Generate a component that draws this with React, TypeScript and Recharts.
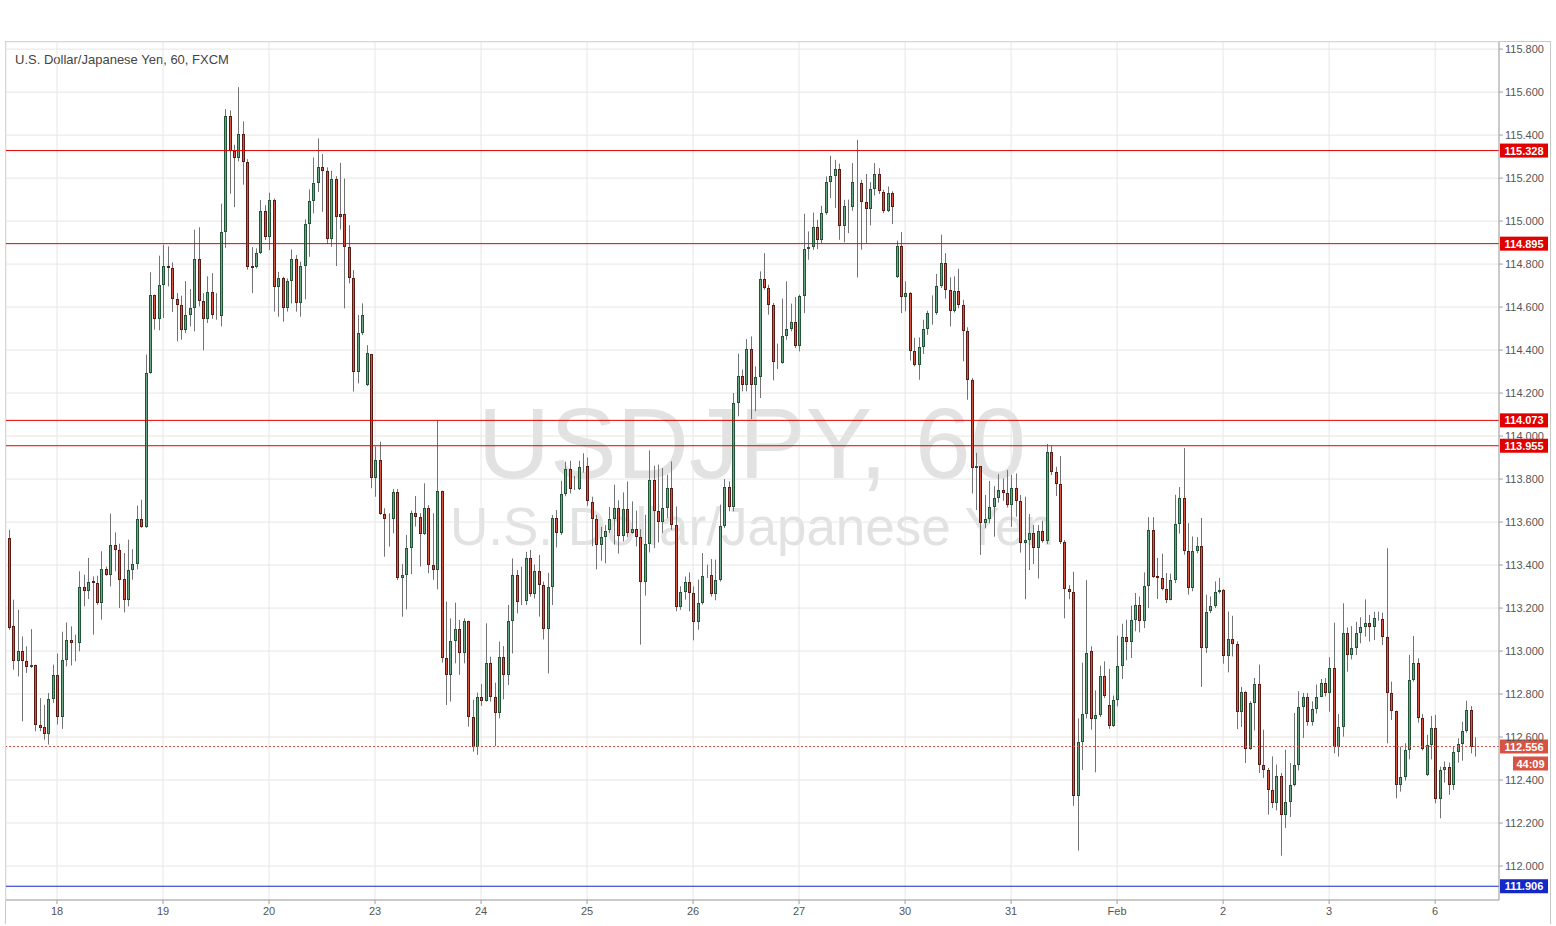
import React from 'react';
import { ComposedChart, Bar, XAxis, YAxis, CartesianGrid, ReferenceLine } from 'recharts';

// [open, high, low, close] per hourly candle
const week1: number[][] = [
  [113.526,113.564,113.099,113.107],[113.115,113.239,112.913,112.952],[112.952,113.192,112.882,112.999],[112.999,113.068,112.673,112.952],
  [112.952,113.022,112.898,112.926],[112.926,113.102,112.921,112.935],[112.935,112.937,112.627,112.656],[112.656,112.781,112.627,112.644],
  [112.647,112.750,112.588,112.614],[112.614,112.805,112.565,112.777],[112.777,112.937,112.758,112.889],[112.889,112.988,112.658,112.694],
  [112.694,113.090,112.638,112.958],[112.958,113.133,112.929,113.051],[113.051,113.115,112.933,113.037],[113.037,113.076,112.952,113.037],
  [113.037,113.371,112.999,113.298],[113.298,113.355,113.208,113.278],[113.278,113.433,113.242,113.322],[113.324,113.347,113.076,113.316],
  [113.316,113.350,113.215,113.223],[113.223,113.464,113.146,113.381],[113.381,113.393,113.350,113.355],[113.355,113.639,113.301,113.495],
  [113.495,113.552,113.371,113.468],[113.468,113.499,113.200,113.332],[113.335,113.456,113.180,113.239],[113.239,113.518,113.208,113.378],
  [113.378,113.474,113.332,113.405],[113.405,113.676,113.380,113.614],[113.614,113.704,113.573,113.577],[113.577,114.379,113.573,114.293],
  [114.293,114.762,114.290,114.658],[114.658,114.658,114.495,114.545],[114.545,114.839,114.492,114.704],[114.704,114.890,114.549,114.792],
  [114.792,114.882,114.696,114.780],[114.780,114.808,114.577,114.637],[114.637,114.665,114.441,114.610],[114.610,114.653,114.448,114.492],
  [114.492,114.721,114.479,114.563],[114.563,114.684,114.510,114.596],[114.596,114.960,114.487,114.823],[114.823,114.971,114.603,114.628],
  [114.628,114.665,114.399,114.545],[114.545,114.743,114.526,114.672],[114.672,114.758,114.545,114.563],[114.563,114.665,114.541,114.557],
  [114.557,115.081,114.510,114.949],[114.949,115.521,114.875,115.490],[115.490,115.515,115.127,115.327],[115.327,115.355,115.065,115.293],
  [115.293,115.623,115.278,115.406],[115.406,115.464,115.169,115.273],[115.273,115.288,114.774,114.786],[114.792,114.879,114.665,114.782],
  [114.788,114.873,114.780,114.850],[114.850,115.098,114.847,115.047],[115.047,115.074,114.912,114.927],[114.927,115.132,114.865,115.098],
  [115.098,115.105,114.579,114.695],[114.695,114.764,114.555,114.737],[114.737,114.741,114.532,114.594],[114.594,114.733,114.579,114.721],
  [114.721,114.868,114.617,114.822],[114.822,114.842,114.579,114.620],[114.620,114.811,114.555,114.791],[114.791,115.008,114.636,114.986],
  [114.986,115.147,114.834,115.093],[115.093,115.296,115.036,115.178],[115.178,115.384,115.136,115.250],[115.250,115.312,115.043,115.234],
  [115.234,115.250,114.893,114.915],[114.915,115.234,114.881,115.198],[115.198,115.209,114.791,115.020],[115.031,115.271,114.961,115.020],
  [115.031,115.198,114.594,114.878],[114.878,114.981,114.710,114.733],[114.733,114.772,114.207,114.300],[114.300,114.563,114.245,114.478],
  [114.478,114.617,114.470,114.563],
];

const week2: number[][] = [
  [114.237,114.423,114.233,114.385],[114.381,114.381,113.757,113.803],[113.803,113.951,113.718,113.889],[113.889,113.974,113.633,113.637],
  [113.637,113.664,113.439,113.613],[113.613,113.641,113.486,113.613],[113.613,113.754,113.548,113.738],[113.738,113.754,113.330,113.338],
  [113.338,113.405,113.160,113.354],[113.354,113.540,113.194,113.478],[113.478,113.653,113.358,113.641],[113.641,113.721,113.579,113.622],
  [113.622,113.641,113.393,113.543],[113.543,113.780,113.540,113.664],[113.664,113.679,113.362,113.400],[113.400,113.641,113.331,113.377],
  [113.377,114.075,113.287,113.746],[113.746,113.746,112.946,112.966],[112.966,113.230,112.749,112.889],[112.889,113.152,112.765,113.048],
  [113.048,113.225,112.943,113.101],[113.101,113.145,112.889,112.993],[112.993,113.152,112.943,113.141],[113.141,113.141,112.648,112.692],
  [112.692,112.773,112.532,112.552],[112.552,112.807,112.517,112.785],[112.785,112.847,112.745,112.769],[112.769,113.129,112.765,112.946],
  [112.943,112.974,112.765,112.788],[112.788,112.853,112.558,112.713],[112.713,113.044,112.687,112.974],[112.974,113.023,112.775,112.889],
  [112.889,113.214,112.842,113.141],[113.141,113.431,112.989,113.354],[113.354,113.377,113.175,113.227],[113.227,113.392,113.214,113.234],
  [113.234,113.462,113.214,113.431],[113.431,113.470,113.253,113.265],[113.265,113.403,113.245,113.372],[113.372,113.447,113.160,113.307],
  [113.307,113.323,113.054,113.101],[113.101,113.364,112.896,113.299],[113.299,113.633,113.214,113.617],[113.617,113.656,113.482,113.547],
  [113.547,113.792,113.540,113.729],[113.729,113.881,113.720,113.845],[113.845,113.885,113.733,113.752],[113.754,113.814,113.749,113.752],
  [113.754,113.885,113.749,113.854],[113.854,113.920,113.830,113.860],[113.860,113.900,113.675,113.698],[113.695,113.718,113.488,113.612],
  [113.612,113.633,113.380,113.493],[113.493,113.578,113.420,113.532],[113.532,113.586,113.408,113.558],[113.561,113.670,113.549,113.614],
  [113.614,113.774,113.495,113.665],[113.665,113.701,113.453,113.537],[113.537,113.738,113.510,113.662],[113.662,113.789,113.530,113.549],
  [113.549,113.696,113.546,113.569],[113.569,113.653,113.487,113.530],[113.530,113.567,113.030,113.320],[113.320,113.634,113.258,113.499],
  [113.499,113.933,113.459,113.797],[113.797,113.862,113.479,113.650],[113.650,113.867,113.505,113.598],[113.598,113.851,113.549,113.665],
  [113.665,113.820,113.619,113.758],[113.758,113.882,113.564,113.588],[113.588,113.673,113.185,113.203],[113.203,113.301,113.192,113.273],
  [113.273,113.347,113.239,113.323],[113.323,113.366,113.185,113.270],[113.270,113.301,113.050,113.134],[113.134,113.332,113.099,113.223],
  [113.223,113.456,113.216,113.347],[113.347,113.402,113.340,113.355],[113.355,113.428,113.254,113.265],[113.265,113.425,113.236,113.329],
  [113.329,113.681,113.323,113.580],[113.580,113.800,113.572,113.763],[113.763,113.789,113.650,113.670],[113.670,114.200,113.650,114.154],
  [114.154,114.383,114.092,114.281],[114.281,114.309,114.208,114.239],[114.239,114.451,114.208,114.405],[114.405,114.464,114.079,114.239],
  [114.239,114.324,114.115,114.275],[114.275,114.766,114.177,114.730],[114.730,114.851,114.681,114.687],[114.687,114.704,114.565,114.609],
  [114.609,114.619,114.259,114.343],[114.346,114.430,114.312,114.340],[114.340,114.639,114.337,114.464],[114.464,114.720,114.448,114.500],
  [114.500,114.616,114.487,114.529],[114.529,114.647,114.410,114.417],[114.417,114.658,114.394,114.650],[114.650,115.034,114.572,114.870],
  [114.870,114.952,114.820,114.879],[114.879,115.040,114.867,114.972],[114.972,115.006,114.870,114.910],[114.910,115.071,114.895,115.037],
  [115.037,115.208,115.029,115.180],[115.180,115.304,115.107,115.211],[115.211,115.285,115.061,115.242],[115.242,115.267,114.913,114.975],
  [114.975,115.099,114.901,115.071],[115.071,115.100,114.944,115.068],[115.064,115.270,115.048,115.184],[115.184,115.378,114.738,115.175],
  [115.175,115.192,114.867,115.088],[115.088,115.219,114.898,115.057],[115.057,115.181,114.980,115.150],[115.150,115.270,115.119,115.219],
  [115.219,115.246,115.126,115.138],[115.135,115.146,115.037,115.045],[115.045,115.161,115.042,115.130],[115.130,115.138,114.986,115.064],
];

const week3: number[][] = [
  [114.738,114.909,114.735,114.882],[114.882,114.949,114.572,114.645],[114.645,114.720,114.580,114.665],[114.665,114.670,114.351,114.394],
  [114.394,114.456,114.324,114.332],[114.332,114.459,114.262,114.413],[114.413,114.541,114.382,114.499],[114.499,114.583,114.471,114.572],
  [114.572,114.654,114.518,114.570],[114.572,114.754,114.564,114.696],[114.696,114.937,114.689,114.805],[114.805,114.851,114.639,114.681],
  [114.681,114.738,114.510,114.580],[114.580,114.743,114.575,114.673],[114.673,114.778,114.595,114.611],[114.611,114.634,114.348,114.487],
  [114.487,114.506,114.169,114.262],[114.262,114.270,113.733,113.850],[113.850,113.922,113.656,113.860],[113.860,113.860,113.447,113.594],
  [113.594,113.726,113.571,113.612],[113.612,113.791,113.594,113.668],[113.668,113.767,113.532,113.710],[113.710,113.823,113.690,113.749],
  [113.749,113.803,113.699,113.733],[113.733,113.842,113.668,113.679],[113.679,113.819,113.578,113.757],[113.757,113.826,113.625,113.699],
  [113.699,113.726,113.458,113.504],[113.504,113.718,113.241,113.515],[113.515,113.637,113.377,113.547],[113.547,113.586,113.405,113.478],
  [113.478,113.586,113.338,113.560],[113.560,113.606,113.504,113.513],[113.513,113.963,113.498,113.927],[113.927,113.954,113.819,113.834],
  [113.834,113.857,113.721,113.777],[113.777,113.907,113.498,113.509],[113.509,113.516,113.152,113.287],[113.287,113.307,113.241,113.276],
  [113.276,113.369,112.280,112.326],[112.326,112.687,112.072,112.579],[112.579,112.946,112.447,112.707],[112.707,113.330,112.687,112.993],
  [112.999,113.022,112.634,112.684],[112.684,112.817,112.436,112.704],[112.704,112.932,112.693,112.886],[112.886,112.952,112.782,112.789],
  [112.751,112.917,112.638,112.653],[112.653,112.793,112.647,112.771],[112.771,113.072,112.743,112.932],[112.932,113.127,112.870,113.065],
  [113.065,113.146,112.957,113.040],[113.040,113.211,112.968,113.146],[113.146,113.270,113.092,113.216],[113.216,113.254,113.087,113.139],
  [113.139,113.366,113.107,113.304],[113.304,113.623,113.200,113.564],[113.564,113.623,113.340,113.344],[113.347,113.433,113.242,113.340],
  [113.340,113.453,113.282,113.289],[113.289,113.363,113.223,113.239],[113.239,113.360,113.236,113.332],[113.332,113.727,113.316,113.592],
  [113.592,113.763,113.546,113.712],[113.712,113.944,113.448,113.464],[113.464,113.595,113.262,113.293],[113.293,113.533,113.278,113.464],
  [113.464,113.530,113.455,113.487],[113.487,113.619,112.833,113.014],[113.014,113.262,112.991,113.180],[113.185,113.254,113.177,113.211],
  [113.211,113.324,113.200,113.273],[113.273,113.340,113.267,113.285],[113.285,113.288,112.941,112.975],[112.975,113.184,112.901,113.056],
  [113.056,113.164,112.975,113.034],[113.034,113.045,112.637,112.715],[112.715,112.833,112.647,112.808],[112.808,112.813,112.479,112.544],
  [112.544,112.766,112.541,112.758],[112.758,112.875,112.631,112.848],[112.848,112.937,112.433,112.472],[112.472,112.634,112.410,112.445],
  [112.445,112.456,112.239,112.352],[112.352,112.510,112.270,112.293],[112.293,112.472,112.259,112.417],[112.417,112.433,112.048,112.239],
  [112.239,112.541,112.177,112.296],[112.296,112.479,112.228,112.379],[112.379,112.712,112.371,112.472],[112.472,112.813,112.445,112.740],
  [112.740,112.805,112.596,112.786],[112.786,112.805,112.653,112.668],[112.668,112.766,112.653,112.730],[112.730,112.844,112.709,112.786],
  [112.786,112.870,112.786,112.851],[112.851,112.874,112.789,112.805],[112.803,112.971,112.718,112.920],[112.920,113.132,112.524,112.555],
  [112.555,112.707,112.509,112.645],[112.645,113.222,112.602,113.082],[113.082,113.110,112.904,112.982],[112.982,113.116,112.961,113.013],
  [113.013,113.136,112.982,113.085],[113.085,113.157,113.036,113.110],[113.110,113.240,113.067,113.129],[113.129,113.168,113.044,113.113],
  [113.113,113.183,113.051,113.152],[113.152,113.183,113.141,113.147],[113.147,113.178,113.028,113.067],[113.067,113.478,112.571,112.803],
  [112.803,112.858,112.679,112.723],[112.723,112.723,112.315,112.377],[112.377,112.555,112.346,112.413],[112.413,112.571,112.397,112.540],
  [112.540,112.982,112.496,112.865],[112.865,113.070,112.858,112.943],[112.943,112.966,112.667,112.687],[112.687,112.707,112.537,112.543],
];

const week4: number[][] = [
  [112.424,112.610,112.419,112.563],[112.563,112.698,112.496,112.641],[112.641,112.703,112.292,112.310],[112.310,112.462,112.222,112.447],
  [112.447,112.486,112.388,112.462],[112.462,112.481,112.331,112.377],[112.377,112.555,112.354,112.532],[112.532,112.594,112.481,112.568],
  [112.568,112.671,112.490,112.630],[112.630,112.769,112.620,112.726],[112.726,112.744,112.524,112.555],[112.560,112.599,112.509,112.556],
];

const dayTickIndex = [11, 35, 59, 83, 107, 131, 155, 179, 203, 227, 251, 275, 299, 323];
const dayLabels = ['18', '19', '20', '23', '24', '25', '26', '27', '30', '31', 'Feb', '2', '3', '6'];
const priceTicks = [112.0, 112.2, 112.4, 112.6, 112.8, 113.0, 113.2, 113.4, 113.6, 113.8, 114.0, 114.2, 114.4, 114.6, 114.8, 115.0, 115.2, 115.4, 115.6, 115.8];
const resistanceLevels = [115.328, 114.895, 114.073, 113.955];
const supportLevels = [111.906];
const lastPrice = 112.556;
const countdown = '44:09';

const candles = [...week1, ...week2, ...week3, ...week4].map(([o, h, l, c], i) => ({ i, o, h, l, c }));

const FONT = '"Liberation Sans", Arial, sans-serif';
const UP_FILL = '#6ba583';
const UP_BORDER = '#225437';
const DOWN_FILL = '#d75442';
const DOWN_BORDER = '#5b1a13';
const WICK = '#737375';
const RED = '#e00000';
const BLUE = '#1428c8';

function CandleShape(props: any) {
  const { x, y, width, height, payload } = props;
  if (x == null || y == null || payload == null) return null;
  const { o, h, l, c } = payload;
  const span = h - l;
  const py = (v: number) => (span === 0 ? y : y + ((h - v) / span) * height);
  const cx = Math.round(x + width / 2);
  const up = c >= o;
  const t = Math.round(Math.min(py(o), py(c)));
  const b = Math.round(Math.max(py(o), py(c)));
  const bh = Math.max(b - t - 1, 0);
  return (
    <g>
      <line x1={cx + 0.5} x2={cx + 0.5} y1={py(h)} y2={py(l)} stroke={WICK} strokeWidth={1} />
      <rect
        x={cx - 0.5}
        y={t + 0.5}
        width={2}
        height={bh}
        fill={up ? UP_FILL : DOWN_FILL}
        stroke={up ? UP_BORDER : DOWN_BORDER}
        strokeWidth={1}
      />
    </g>
  );
}

const makeTag = (color: string, text: string, extra?: string) => (props: any) => {
  const vb = props.viewBox || {};
  const x0 = (vb.x ?? 0) + (vb.width ?? 0) + 1;
  const yc = vb.y ?? 0;
  return (
    <g>
      <rect x={x0} y={yc - 7} width={48} height={14} fill={color} />
      <text x={x0 + 24} y={yc + 4} textAnchor="middle" fill="#ffffff" fontSize={11} fontWeight="bold" fontFamily={FONT}>
        {text}
      </text>
      {extra ? (
        <g>
          <rect x={x0 + 13} y={yc + 10} width={35} height={14} fill={color} />
          <text x={x0 + 30.5} y={yc + 21} textAnchor="middle" fill="#ffffff" fontSize={11} fontWeight="bold" fontFamily={FONT}>
            {extra}
          </text>
        </g>
      ) : null}
    </g>
  );
};

export default function App() {
  return (
    <div style={{ position: 'absolute', left: 0, top: 0, width: 1556, height: 926, background: '#ffffff', overflow: 'hidden' }}>
      <div
        style={{
          position: 'absolute',
          left: 5,
          top: 41,
          width: 1546,
          height: 883,
          borderLeft: '1px solid #c9c9c9',
          borderTop: '1px solid #c9c9c9',
          borderRight: '1px solid #c9c9c9',
          boxSizing: 'border-box',
        }}
      />
      <svg width={1556} height={926} style={{ position: 'absolute', left: 0, top: 0 }}>
        <text x={752} y={478} textAnchor="middle" fontSize={100} fontFamily={FONT} fill="#e2e2e2">
          USDJPY, 60
        </text>
        <text x={752} y={545} textAnchor="middle" fontSize={53} fontFamily={FONT} fill="#e2e2e2">
          U.S. Dollar/Japanese Yen
        </text>
        <text x={15} y={64} fontSize={13} fontFamily={FONT} fill="#444444">
          U.S. Dollar/Japanese Yen, 60, FXCM
        </text>
      </svg>
      <div style={{ position: 'absolute', left: 0, top: 0 }}>
        <ComposedChart width={1556} height={926} data={candles} margin={{ top: 42, right: 6, bottom: 4, left: 6 }}>
          <CartesianGrid stroke="#e6e6e6" strokeWidth={1} />
          <XAxis
            dataKey="i"
            type="number"
            domain={[-0.55, 337.46]}
            allowDataOverflow
            ticks={dayTickIndex}
            interval={0}
            tickFormatter={(v: number) => dayLabels[dayTickIndex.indexOf(v)] ?? ''}
            height={22}
            tick={{ fontSize: 11, fill: '#555555', fontFamily: FONT }}
            tickSize={4}
            tickMargin={3}
            stroke="#a0a0a0"
          />
          <YAxis
            orientation="right"
            type="number"
            domain={[111.842, 115.833]}
            allowDataOverflow
            ticks={priceTicks}
            interval={0}
            tickFormatter={(v: number) => v.toFixed(3)}
            width={51}
            tick={{ fontSize: 11, fill: '#555555', fontFamily: FONT }}
            tickSize={4}
            tickMargin={2}
            stroke="#a0a0a0"
          />
          <Bar
            dataKey={(d: any) => [d.l, d.h]}
            barSize={3}
            shape={CandleShape}
            isAnimationActive={false}
          />
          {resistanceLevels.map((p) => (
            <ReferenceLine key={p} y={p} stroke={RED} strokeWidth={1} label={makeTag(RED, p.toFixed(3))} />
          ))}
          {supportLevels.map((p) => (
            <ReferenceLine key={p} y={p} stroke={BLUE} strokeWidth={1} label={makeTag(BLUE, p.toFixed(3))} />
          ))}
          <ReferenceLine
            y={lastPrice}
            stroke={DOWN_FILL}
            strokeWidth={1}
            strokeDasharray="2 2"
            label={makeTag(DOWN_FILL, lastPrice.toFixed(3), countdown)}
          />
        </ComposedChart>
      </div>
    </div>
  );
}
